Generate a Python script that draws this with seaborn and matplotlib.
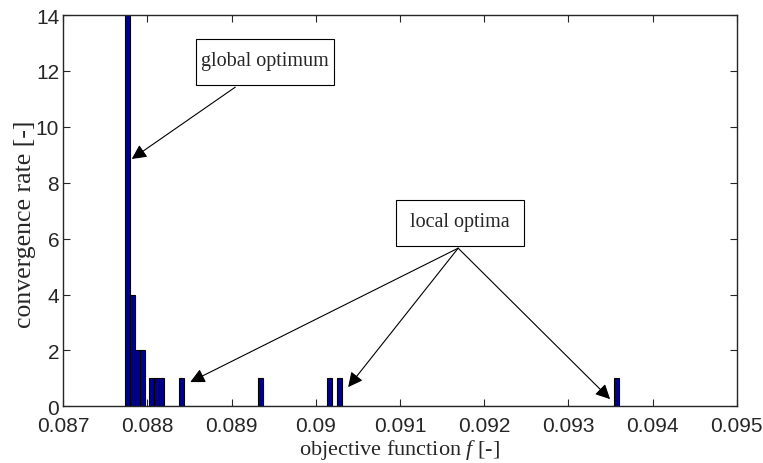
import numpy as np
import matplotlib
matplotlib.use("Agg")
import matplotlib.pyplot as plt
from matplotlib.patches import Rectangle
import seaborn as sns

# objective function values of the runs (first = min, last = max) and how many runs hit each
f_values = [0.08773, 0.08782, 0.08788, 0.08794, 0.08805, 0.08811, 0.08817,
            0.08840, 0.08934, 0.09017, 0.09028, 0.09360]
run_counts = [14, 4, 2, 2, 1, 1, 1, 1, 1, 1, 1, 1]

x_ticks = [0.087, 0.088, 0.089, 0.090, 0.091, 0.092, 0.093, 0.094, 0.095]
x_tick_labels = ["0.087", "0.088", "0.089", "0.09", "0.091", "0.092", "0.093", "0.094", "0.095"]
y_ticks = [0, 2, 4, 6, 8, 10, 12, 14]

sns.set_style("ticks")
plt.rcParams['font.family'] = ['Liberation Sans', 'DejaVu Sans']
plt.rcParams['mathtext.fontset'] = 'custom'
plt.rcParams['mathtext.it'] = 'Liberation Serif:italic'
plt.rcParams['mathtext.rm'] = 'Liberation Serif'

fig = plt.figure(figsize=(7.63, 4.64), dpi=100)
ax = fig.add_axes([0.083, 0.122, 0.8825, 0.8435])

sns.histplot(x=f_values, weights=run_counts, bins=100, ax=ax,
             color=(0, 0, 0.56), edgecolor='black', linewidth=0.8, alpha=1)

ax.set_xlim(0.087, 0.095)
ax.set_ylim(0, 14)
ax.set_xticks(x_ticks)
ax.set_xticklabels(x_tick_labels)
ax.set_yticks(y_ticks)
ax.tick_params(direction='in', top=True, right=True, labelsize=15, length=5, width=0.8)
ax.tick_params(axis='x', pad=7)
ax.tick_params(axis='y', pad=3)
for s in ax.spines.values():
    s.set_linewidth(1.0)
    s.set_visible(True)

serif = ['Liberation Serif', 'DejaVu Serif']
ax.set_xlabel("objective function $f$ [-]", family=serif, fontsize=16, va='top')
ax.xaxis.set_label_coords(0.5, -0.077)
ax.set_ylabel("convergence rate [-]", family=serif, fontsize=18.5)
ax.yaxis.set_label_coords(-0.041, 0.468)

# annotation boxes (data coords) with the text centred in them
for (x0, x1, y0, y1), label in [((0.088576, 0.090215, 11.50, 13.14), "global optimum"),
                                ((0.090951, 0.092471, 5.735, 7.38), "local optima")]:
    ax.add_patch(Rectangle((x0, y0), x1 - x0, y1 - y0, facecolor='white',
                           edgecolor='black', linewidth=0.8, zorder=5))
    ax.text((x0 + x1) / 2, (y0 + y1) / 2 + 0.04, label, family=serif, fontsize=14.5,
            ha='center', va='center', zorder=6)

arrow = dict(arrowstyle='-|>', color='black', lw=0.8, mutation_scale=22,
             shrinkA=0, shrinkB=0)
ax.annotate("", xy=(0.087813, 8.85), xytext=(0.089043, 11.42), arrowprops=arrow)
for tip in [(0.088508, 0.87), (0.090384, 0.69), (0.093496, 0.26)]:
    ax.annotate("", xy=tip, xytext=(0.091691, 5.66), arrowprops=arrow)

fig.savefig("out.png", dpi=100)
